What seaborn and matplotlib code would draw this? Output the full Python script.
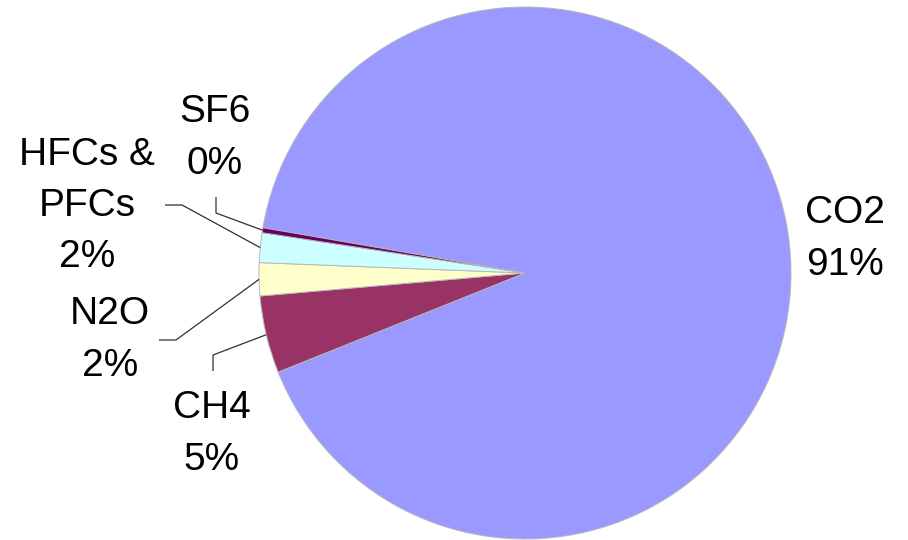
import numpy as np
import matplotlib
matplotlib.use("Agg")
import matplotlib.pyplot as plt
import seaborn as sns

# Greenhouse gas emission shares (percent)
gases = ["CO2", "CH4", "N2O", "HFCs &\nPFCs", "SF6"]
shares = [91.2, 4.7, 2.0, 1.8, 0.3]
slice_colors = ["#9999FF", "#993366", "#FFFFCC", "#CCFFFF", "#660066"]

# Label block centres and leader-line elbows, in pixel space (origin top-left)
label_pos = [(845, 239), (212, 434), (110, 340), (87, 206), (215, 138)]
leader_pts = [None, [(213, 371), (213, 355)], [(159, 340), (176, 340)],
              [(165, 205), (182, 205)], [(216, 197), (216, 213)]]

W, H = 908, 540

sns.set_theme(style="white")
plt.rcParams["font.family"] = ["Liberation Sans", "DejaVu Sans"]

fig = plt.figure(figsize=(W / 100, H / 100), dpi=100)
ax = fig.add_axes([0, 0, 1, 1])


def px(x, y):
    return x, H - y


cx, cy = px(525, 273)
radius = 266

wedges, _ = ax.pie(
    shares,
    colors=slice_colors,
    startangle=170.2,
    counterclock=False,
    center=(cx, cy),
    radius=radius,
    wedgeprops=dict(edgecolor="#b8b8b8", linewidth=0.7),
)

for wedge, name, val, pos, pts in zip(wedges, gases, shares, label_pos, leader_pts):
    lx, ly = px(*pos)
    ax.text(lx, ly, f"{name}\n{round(val):.0f}%", ha="center", va="center",
            multialignment="center", fontsize=28, linespacing=1.55, color="black")
    if pts is not None:
        mid = np.deg2rad((wedge.theta1 + wedge.theta2) / 2)
        ex = cx + radius * np.cos(mid)
        ey = cy + radius * np.sin(mid)
        xs = [px(*p)[0] for p in pts] + [ex]
        ys = [px(*p)[1] for p in pts] + [ey]
        ax.plot(xs, ys, color="#303030", linewidth=0.9, solid_capstyle="butt")

ax.set_xlim(0, W)
ax.set_ylim(0, H)
ax.set_aspect("equal")
ax.axis("off")

fig.savefig("out.png", dpi=100, facecolor="white")
